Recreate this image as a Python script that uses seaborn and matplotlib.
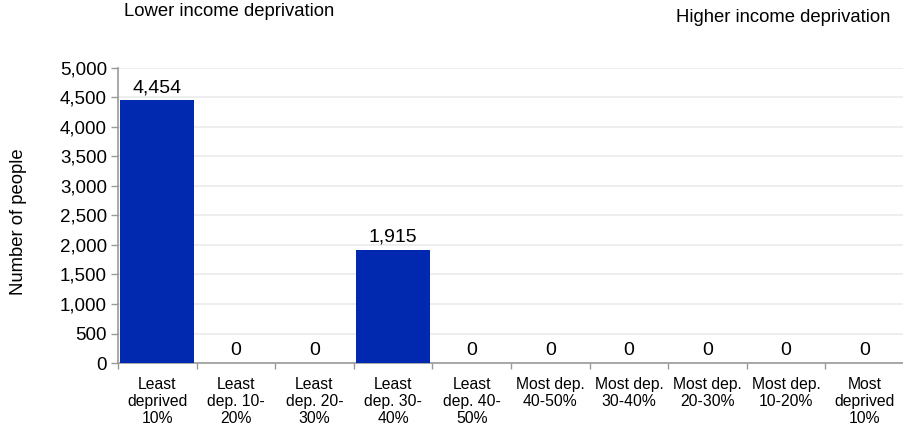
import matplotlib
matplotlib.use("Agg")
import matplotlib.pyplot as plt
import seaborn as sns
import pandas as pd
from matplotlib.ticker import FuncFormatter, FixedLocator

categories = ["Least\ndeprived\n10%", "Least\ndep. 10-\n20%", "Least\ndep. 20-\n30%",
              "Least\ndep. 30-\n40%", "Least\ndep. 40-\n50%", "Most dep.\n40-50%",
              "Most dep.\n30-40%", "Most dep.\n20-30%", "Most dep.\n10-20%",
              "Most\ndeprived\n10%"]
values = [4454, 0, 0, 1915, 0, 0, 0, 0, 0, 0]
y_ticks = [0, 500, 1000, 1500, 2000, 2500, 3000, 3500, 4000, 4500, 5000]

sns.set_theme(style="white")
plt.rcParams['font.family'] = ['Liberation Sans', 'DejaVu Sans']

df = pd.DataFrame({"cat": categories, "val": values})

fig = plt.figure(figsize=(9.04, 4.30), dpi=100)
ax = fig.add_axes([0.1305, 0.1558, 0.8695, 0.6861])

sns.barplot(data=df, x="cat", y="val", color="#0029B0", saturation=1,
            width=0.94, ax=ax, zorder=3, linewidth=0)

ax.set_ylim(0, 5000)
ax.set_xlim(-0.5, len(categories) - 0.5)
ax.set_yticks(y_ticks)
ax.yaxis.set_major_formatter(FuncFormatter(lambda v, p: f"{int(v):,}"))
ax.grid(axis="y", color="#EBEBEB", linewidth=1.2, zorder=0)
ax.set_axisbelow(True)

for s in ["top", "right"]:
    ax.spines[s].set_visible(False)
for s in ["left", "bottom"]:
    ax.spines[s].set_color("#999999")
    ax.spines[s].set_linewidth(1.2)

ax.tick_params(axis="y", which="major", length=5, width=1, color="#999999",
               labelsize=13.5, pad=3, left=True, labelcolor="black")
ax.tick_params(axis="x", which="major", length=0, labelsize=11.3, pad=10,
               labelcolor="black")
ax.xaxis.set_minor_locator(FixedLocator([i - 0.5 for i in range(len(categories) + 1)]))
ax.tick_params(axis="x", which="minor", length=4, width=1, color="#999999",
               bottom=True)
for lbl in ax.get_xticklabels():
    lbl.set_linespacing(1.17)

ax.set_xlabel("")
ax.set_ylabel("Number of people", fontsize=13.3, color="black")
ax.yaxis.set_label_coords(-0.1155, 0.478)

for i, v in enumerate(values):
    ax.text(i, v + 70, f"{v:,}", ha="center", va="bottom", fontsize=14, color="black")

fig.text(124 / 904, 1 - 12 / 430, "Lower income deprivation", ha="left", va="center",
         fontsize=13.3, color="black")
fig.text(890 / 904, 1 - 18 / 430, "Higher income deprivation", ha="right", va="center",
         fontsize=13.3, color="black")

fig.savefig("out.png", dpi=100)
